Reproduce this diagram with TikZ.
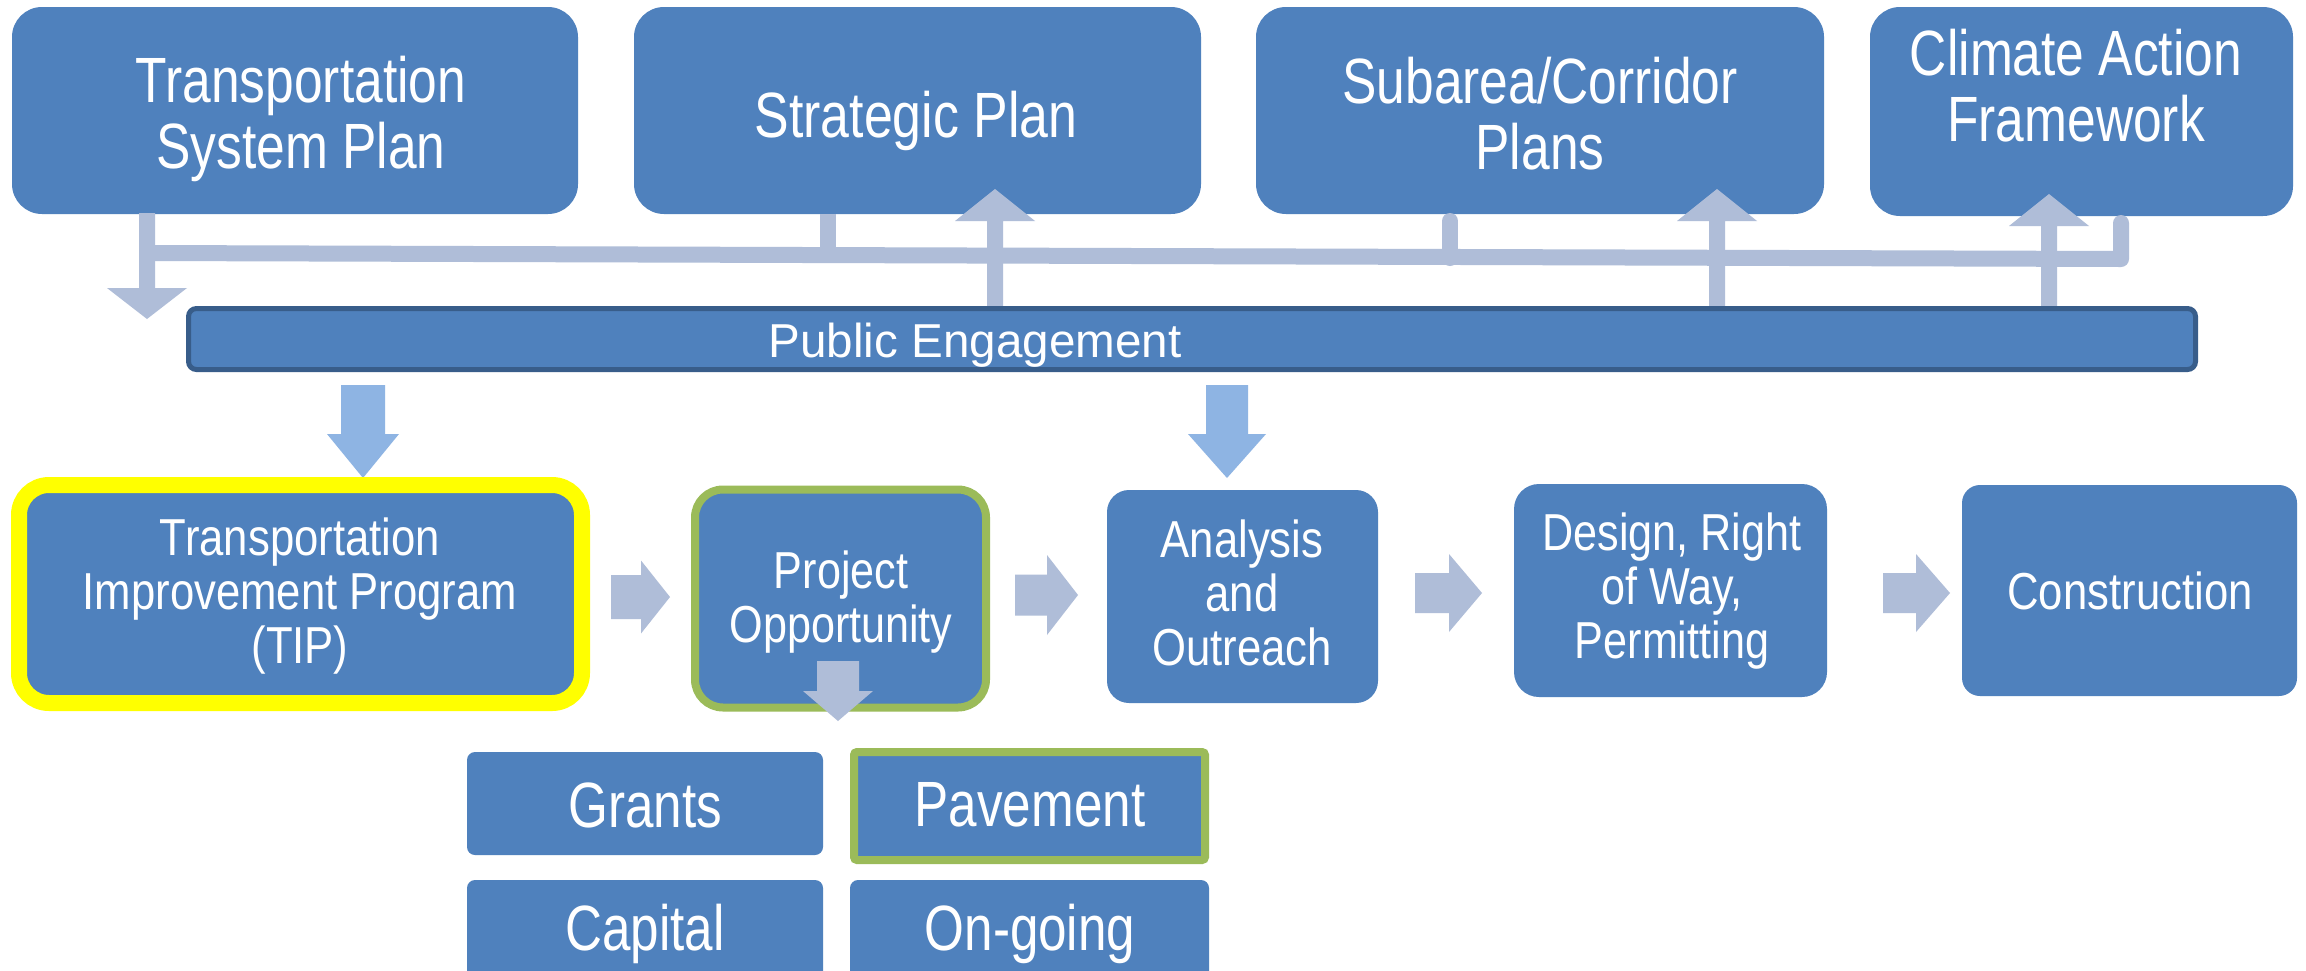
\documentclass[tikz,border=0pt]{standalone}
\usepackage{fontspec}
\setmainfont{Liberation Sans}
\usepackage{graphicx}
\definecolor{boxblue}{HTML}{4F81BD}
\definecolor{conn}{HTML}{AFBDD8}
\definecolor{downblue}{HTML}{8EB4E3}
\definecolor{peborder}{HTML}{385D8A}
\definecolor{tipyellow}{HTML}{FFFF00}
\definecolor{pogreen}{HTML}{9BBB59}
\newcommand\ctext[2]{\scalebox{#1}[1]{\begin{tabular}{@{}c@{}}#2\end{tabular}}}
% color, x, y0, y1(head base), ytip, half stem, half head
\newcommand\vblock[7]{\fill[#1] ({#2-#6},#3) -- ({#2-#6},#4) -- ({#2-#7},#4) -- (#2,#5) -- ({#2+#7},#4) -- ({#2+#6},#4) -- ({#2+#6},#3) -- cycle;}
% color, y, x0, x1(head base), xtip, half stem, half head
\newcommand\hblock[7]{\fill[#1] (#3,{#2-#6}) -- (#4,{#2-#6}) -- (#4,{#2-#7}) -- (#5,#2) -- (#4,{#2+#7}) -- (#4,{#2+#6}) -- (#3,{#2+#6}) -- cycle;}
\tikzset{
  bluebox/.style={fill=boxblue, inner sep=0pt, outer sep=0pt},
  topbox/.style={bluebox, rounded corners=30pt},
  toptext/.style={text=white, inner sep=0pt, font=\fontsize{64}{66}\selectfont},
  midtext/.style={text=white, inner sep=0pt, font=\fontsize{52}{54}\selectfont},
  bottext/.style={text=white, inner sep=0pt, font=\fontsize{64}{66}\selectfont},
  bar/.style={draw=conn, line width=16pt},
}
\begin{document}
\begin{tikzpicture}[x=1pt, y=-1pt]
\useasboundingbox (0,0) rectangle (2306,970);
\clip (0,0) rectangle (2306,970);
\fill[white] (0,0) rectangle (2306,970);

% top row
\node[topbox, minimum width=566pt, minimum height=207pt] (tsp) at (295,110.5) {};
\node[topbox, minimum width=567pt, minimum height=207pt] (sp) at (917.5,110.5) {};
\node[topbox, minimum width=568pt, minimum height=207pt] (sub) at (1540,110.5) {};
\node[topbox, minimum width=423pt, minimum height=209pt] (caf) at (2081.5,111.5) {};
\node[toptext] (tspL) at (301,121.8) {\ctext{0.805}{Transportation\\System Plan}};
\node[toptext] (spL) at (916,123.8) {\ctext{0.81}{Strategic Plan}};
\node[toptext] (subL) at (1540,122.8) {\ctext{0.805}{Subarea/Corridor\\Plans}};
\node[toptext] (cafL) at (2076,94.8) {\ctext{0.805}{Climate Action\\Framework}};

% connector bar
\coordinate (barL) at (147,253);
\coordinate (barR) at (2121,259);
\coordinate (cafS) at (2121,223);
\draw[bar, line cap=round, line join=round] (barL) -- (barR) -- (cafS);
\draw[bar] (sp.south -| 828,0) -- (828,254);
\draw[bar, line cap=round] (1450,221) -- (1450,258);
\vblock{conn}{147}{213}{288}{319}{8}{40}
\vblock{conn}{995}{306}{221}{189}{8}{40}
\vblock{conn}{1717}{306}{221}{189}{8}{40}
\vblock{conn}{2049}{308}{226}{194}{8}{40}

% public engagement
\node[bluebox, draw=peborder, line width=5pt, rounded corners=8pt, minimum width=2007pt, minimum height=61pt] (pe) at (1192,339) {};
\node[text=white, inner sep=0pt, font=\fontsize{47.6}{50}\selectfont] (peL) at (975,347) {\begin{tabular}{@{}c@{}}Public Engagement\end{tabular}};

% down arrows from public engagement
\vblock{downblue}{363}{385}{434}{478}{22}{36}
\vblock{downblue}{1227}{385}{434}{478}{21}{39}

% middle row
\node[bluebox, draw=tipyellow, line width=16pt, rounded corners=30pt, minimum width=563pt, minimum height=218pt] (tip) at (300.5,594) {};
\node[bluebox, draw=pogreen, line width=8pt, rounded corners=28pt, minimum width=291pt, minimum height=218pt] (po) at (840.5,598.5) {};
\node[bluebox, rounded corners=22pt, minimum width=271pt, minimum height=213pt] (ana) at (1242.5,596.5) {};
\node[bluebox, rounded corners=25pt, minimum width=313pt, minimum height=213pt] (des) at (1670.5,590.5) {};
\node[bluebox, rounded corners=18pt, minimum width=335pt, minimum height=211pt] (con) at (2129.5,590.5) {};
\node[midtext] (tipL) at (300,598.2) {\ctext{0.84}{Transportation\\Improvement Program\\(TIP)}};
\node[midtext] (poL) at (841,604.2) {\ctext{0.83}{Project\\Opportunity}};
\node[midtext] (anaL) at (1242,600.2) {\ctext{0.84}{Analysis\\and\\Outreach}};
\node[midtext] (desL) at (1672,593.2) {\ctext{0.83}{Design, Right\\of Way,\\Permitting}};
\node[midtext] (conL) at (2130,598.7) {\ctext{0.84}{Construction}};

% right arrows
\hblock{conn}{597}{611}{641}{670}{22}{36.5}
\hblock{conn}{595}{1015}{1047}{1078}{20.5}{40}
\hblock{conn}{593}{1415}{1449}{1482}{20}{39}
\hblock{conn}{593}{1883}{1916}{1950}{20}{39}

% bottom boxes
\node[bluebox, rounded corners=8pt, minimum width=356pt, minimum height=103pt] (gr) at (645,803.5) {};
\node[bluebox, draw=pogreen, line width=8pt, rounded corners=3pt, minimum width=351pt, minimum height=108pt] (pav) at (1029.5,806) {};
\node[bluebox, rounded corners=8pt, minimum width=356pt, minimum height=120pt] (cap) at (645,940) {};
\node[bluebox, rounded corners=8pt, minimum width=359pt, minimum height=120pt] (ong) at (1029.5,940) {};
\node[bottext] (grL) at (645,813.8) {\ctext{0.8}{Grants}};
\node[bottext] (pavL) at (1030,812.8) {\ctext{0.8}{Pavement}};
\node[bottext] (capL) at (645,936.8) {\ctext{0.8}{Capital}};
\node[bottext] (ongL) at (1030,936.8) {\ctext{0.8}{On-going}};

% arrow from project opportunity down
\vblock{conn}{838}{661}{691}{721}{21}{35}
\end{tikzpicture}
\end{document}
